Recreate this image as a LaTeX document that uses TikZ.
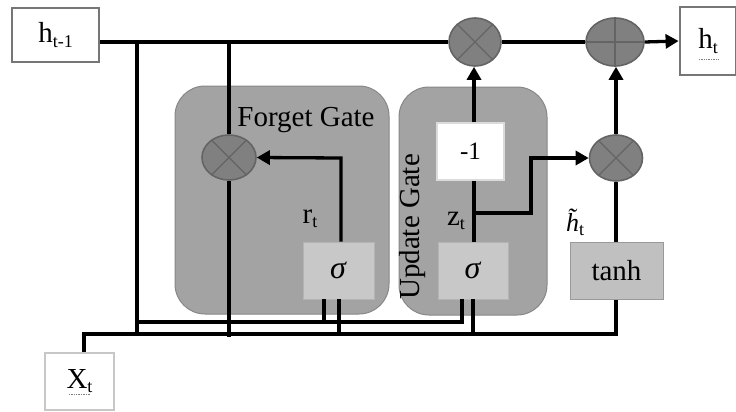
\documentclass[tikz,border=0pt]{standalone}
\usepackage{fontspec}
\setmainfont{Liberation Serif}
\usetikzlibrary{arrows.meta,shapes.geometric}
\definecolor{opfill}{RGB}{128,128,128}
\definecolor{opdraw}{RGB}{100,100,100}
\definecolor{gatefill}{RGB}{163,163,163}
\definecolor{gatedraw}{RGB}{135,135,135}
\definecolor{sigfill}{RGB}{200,200,200}
\definecolor{tanhfill}{RGB}{192,192,192}
\definecolor{boxdraw}{RGB}{118,118,118}
\newcommand{\lsub}[1]{\raisebox{-0.14em}{\fontsize{18}{18}\selectfont #1}}
\newcommand{\bigf}{\fontsize{29}{31}\selectfont}
\begin{document}
\begin{tikzpicture}[x=1pt,y=-1pt,
  wire/.style={line width=3.3pt,black},
  arr/.style={wire,-{Triangle[length=13pt,width=14pt]}},
  opnode/.style={ellipse,draw=opdraw,fill=opfill,line width=1.6pt,inner sep=0pt},
  iobox/.style={rectangle,draw=boxdraw,fill=white,line width=2.8pt,inner sep=0pt,font=\bigf},
  sigbox/.style={rectangle,draw=sigfill!90!black,fill=sigfill,line width=0.8pt,inner sep=0pt,font=\bigf},
  gatebox/.style={draw=gatedraw,fill=gatefill,line width=1pt,rounded corners=30pt},
  lbl/.style={font=\bigf,inner sep=0pt},
  crossline/.style={draw=opdraw,line width=1.4pt}]
\useasboundingbox (0,0) rectangle (736,412);

% gate backgrounds
\path[gatebox] (175,86) rectangle (389,314);
\path[gatebox] (399,87) rectangle (547,315);
\node[lbl,font=\fontsize{29}{31}\selectfont] (fglbl) at (306,120) {Forget Gate};
\node[lbl,font=\fontsize{29}{31}\selectfont,rotate=90] (uglbl) at (413,227) {Update Gate};

% boxes
\node[iobox,minimum width=87pt,minimum height=54pt] (hprev) at (55.5,35) {h\lsub{t-1}};
\node[iobox,minimum width=56pt,minimum height=68pt] (ht) at (708,41) {h\lsub{t}};
\node[iobox,draw=black!22,minimum width=69pt,minimum height=57pt] (xt) at (79.5,381.5) {X\lsub{t}};
\draw[gray,densely dotted,line width=0.7pt] (699,59) -- (718,59);
\draw[gray,densely dotted,line width=0.7pt] (69,394) -- (90,394);

\node[rectangle,draw=black!14,fill=white,line width=2pt,minimum width=67pt,minimum height=57pt,inner sep=0pt,font=\fontsize{25}{27}\selectfont] (minus) at (470.5,151.5) {-1};
\node[sigbox,minimum width=71pt,minimum height=57pt] (sigf) at (338.5,270.5) {\fontsize{32}{33}\selectfont\textit{σ}};
\node[sigbox,minimum width=70pt,minimum height=57pt] (sigu) at (473,270.5) {\fontsize{32}{33}\selectfont\textit{σ}};
\node[rectangle,draw=black!40,fill=tanhfill,line width=1pt,minimum width=93pt,minimum height=57pt,inner sep=0pt,font=\bigf] (tanh) at (616.5,270.5) {tanh};

% operators
\node[opnode,minimum width=52pt,minimum height=48pt] (op1) at (475,42) {};
\node[opnode,minimum width=58pt,minimum height=48pt] (plus) at (615,42) {};
\node[opnode,minimum width=53pt,minimum height=46pt] (op2) at (616,158) {};
\node[opnode,minimum width=54pt,minimum height=45pt] (fop) at (229,157.5) {};
\foreach \n in {op1,op2,fop}{
  \draw[crossline] (\n.45) -- (\n.225);
  \draw[crossline] (\n.135) -- (\n.315);
}
\draw[crossline] (plus.north) -- (plus.south);
\draw[crossline] (plus.west) -- (plus.east);

% labels
\node[lbl] (rt) at (310,219) {r\lsub{t}};
\node[lbl] (zt) at (456,221) {z\lsub{t}};
\node[lbl,font=\fontsize{26}{28}\selectfont] (htil) at (575,222) {\textit{h}\llap{\raisebox{0.22em}{\textit{\char"02DC}}\hspace{0.06em}}\lsub{t}};

% coordinates
\coordinate (j1) at (137,43);
\coordinate (j1b) at (137,335);
\coordinate (j2) at (229,43);
\coordinate (j2b) at (229,337);
\coordinate (ub1) at (137,322);
\coordinate (ub2) at (324,322);
\coordinate (ub3) at (462,322);
\coordinate (lb0) at (84,334);
\coordinate (lb1) at (339,334);
\coordinate (lb2) at (473,334);
\coordinate (lb3) at (616,334);
\coordinate (rc) at (341,158);
\coordinate (zb) at (474,213);
\coordinate (zc1) at (531,213);
\coordinate (zc2) at (531,158);

% wires
\draw[wire] (hprev.east |- op1) -- (op1.west);
\draw[wire] (j1) -- (j1b);
\draw[wire] (j2) -- (fop.north);
\draw[wire] (fop.south) -- (j2b);
\draw[wire] (ub1) -- (ub3) -- (ub3 |- sigu.south);
\draw[wire] (ub2) -- (ub2 |- sigf.south);
\draw[wire] (xt.north -| lb0) -- (lb0) -- (lb3) -- (tanh.south -| lb3);
\draw[wire] (lb1) -- (lb1 |- sigf.south);
\draw[wire] (lb2) -- (lb2 |- sigu.south);
\draw[arr] (rc |- sigf.north) -- (rc) -- (fop.east);
\draw[wire] (zb |- sigu.north) -- (zb |- minus.south);
\draw[arr] (zb |- minus.north) -- (zb |- op1.south);
\draw[arr] (zb) -- (zc1) -- (zc2) -- (op2.west);
\draw[wire] (tanh.north -| op2) -- (op2.south);
\draw[arr] (op2.north) -- (plus.south -| op2);
\draw[wire] (op1.east) -- (plus.west);
\draw[arr] (plus.east) -- (ht.west);
\end{tikzpicture}
\end{document}
